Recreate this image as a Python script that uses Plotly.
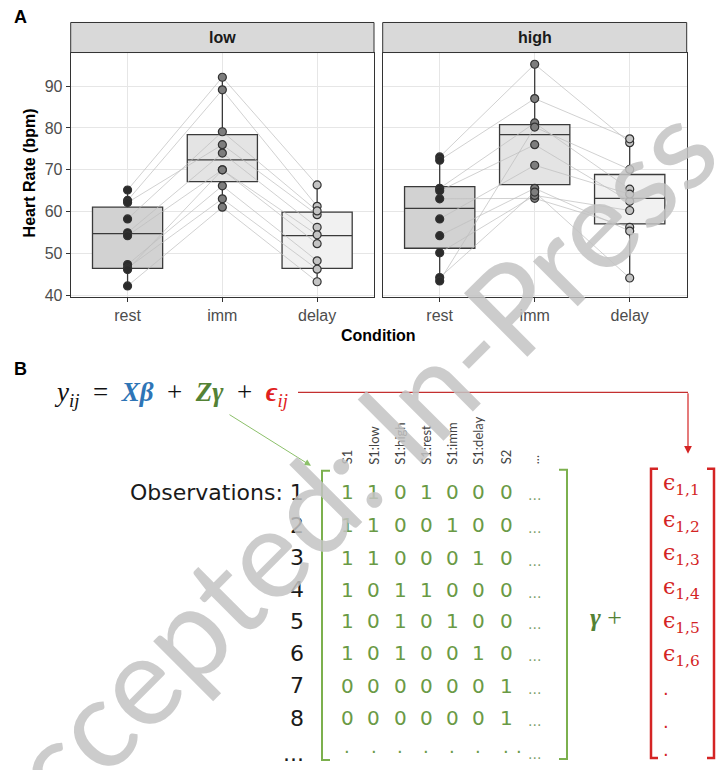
import plotly.graph_objects as go

W, H = 728, 770
def X(px): return px / W
def Y(py): return 1 - py / H

# ---------------- Panel A data ----------------
conditions = ["rest", "imm", "delay"]
facets = ["low", "high"]

rest_low  = [65.2, 62.7, 62.2, 58.3, 55.0, 54.3, 47.4, 46.6, 46.2, 42.3]
imm_low   = [92.1, 89.1, 76.0, 79.1, 74.0, 70.0, 66.2, 63.1, 70.0, 61.1]
delay_low = [66.4, 61.3, 59.3, 60.2, 56.3, 52.4, 48.3, 46.3, 54.5, 43.3]

rest_high  = [73.1, 72.3, 65.6, 65.0, 63.1, 58.3, 54.3, 50.2, 44.3, 43.5]
imm_high   = [95.2, 87.0, 81.2, 76.0, 63.2, 71.1, 65.6, 63.9, 64.7, 80.2]
delay_high = [76.5, 77.4, 65.4, 62.5, 56.3, 64.2, 55.4, 60.3, 44.2, 70.1]

# box statistics (rest, imm, delay)
q1_low  = [46.5, 67.2, 46.5]
med_low = [54.8, 72.4, 54.3]
q3_low  = [61.1, 78.4, 59.9]
lo_low  = [42.3, 61.1, 43.3]
hi_low  = [65.2, 92.1, 66.4]

q1_high  = [51.3, 66.5, 57.1]
med_high = [60.8, 78.4, 63.2]
q3_high  = [66.0, 80.8, 68.9]
lo_high  = [43.5, 63.2, 44.2]
hi_high  = [73.1, 95.2, 77.4]

y_ticks = [40, 50, 60, 70, 80, 90]

# ---------------- Panel B data ----------------
z_columns = ["S1", "S1:low", "S1:high", "S1:rest", "S1:imm", "S1:delay", "S2", "..."]
row_labels = ["Observations: 1", "2", "3", "4", "5", "6", "7", "8", "..."]
z_matrix = [
    [1, 1, 0, 1, 0, 0, 0],
    [1, 1, 0, 0, 1, 0, 0],
    [1, 1, 0, 0, 0, 1, 0],
    [1, 0, 1, 1, 0, 0, 0],
    [1, 0, 1, 0, 1, 0, 0],
    [1, 0, 1, 0, 0, 1, 0],
    [0, 0, 0, 0, 0, 0, 1],
    [0, 0, 0, 0, 0, 0, 1],
]
eps_labels = ["1,1", "1,2", "1,3", "1,4", "1,5", "1,6"]

box_fill = ["#d2d2d2", "#e4e4e4", "#f1f1f1"]
pt_fill = ["#2b2b2b", "#7d7d7d", "#c4c4c4"]
GREEN = "#6a9a45"
RED = "#d42424"

fig = go.Figure()

facet_data = [
    ("x", "y", [rest_low, imm_low, delay_low], q1_low, med_low, q3_low, lo_low, hi_low),
    ("x2", "y2", [rest_high, imm_high, delay_high], q1_high, med_high, q3_high, lo_high, hi_high),
]

for xa, ya, vals, q1, med, q3, lo, hi in facet_data:
    for i in range(3):
        fig.add_trace(go.Box(
            x=[i + 1], q1=[q1[i]], median=[med[i]], q3=[q3[i]],
            lowerfence=[lo[i]], upperfence=[hi[i]],
            width=0.74, fillcolor=box_fill[i],
            line=dict(color="#3a3a3a", width=1.3), whiskerwidth=0,
            boxpoints=False, showlegend=False, hoverinfo="skip",
            xaxis=xa, yaxis=ya))
    n = len(vals[0])
    for s in range(n):
        fig.add_trace(go.Scatter(
            x=[1, 2, 3], y=[vals[0][s], vals[1][s], vals[2][s]],
            mode="lines", line=dict(color="rgba(190,190,190,0.7)", width=1),
            showlegend=False, hoverinfo="skip", xaxis=xa, yaxis=ya))
    for i in range(3):
        fig.add_trace(go.Scatter(
            x=[i + 1] * n, y=vals[i], mode="markers",
            marker=dict(size=8, color=pt_fill[i], line=dict(color="#333333", width=1.2)),
            showlegend=False, hoverinfo="skip", xaxis=xa, yaxis=ya))

ax_common = dict(range=[0.4, 3.6], tickvals=[1, 2, 3], ticktext=conditions,
                 showgrid=True, gridcolor="#e6e6e6", gridwidth=1, zeroline=False,
                 showline=True, mirror=True, linecolor="#333333", linewidth=1,
                 ticks="outside", ticklen=4, tickcolor="#333333",
                 tickfont=dict(family="Liberation Sans", size=16, color="#4d4d4d"))
ay_common = dict(range=[39.6, 98.0], tickvals=y_ticks,
                 showgrid=True, gridcolor="#e6e6e6", gridwidth=1, zeroline=False,
                 showline=True, mirror=True, linecolor="#333333", linewidth=1,
                 tickfont=dict(family="Liberation Sans", size=16, color="#4d4d4d"))

fig.update_layout(
    width=W, height=H, margin=dict(l=0, r=0, t=0, b=0),
    paper_bgcolor="white", plot_bgcolor="white", boxmode="overlay",
    xaxis=dict(domain=[X(70.7), X(374)], anchor="y", **ax_common),
    xaxis2=dict(domain=[X(382.7), X(686.7)], anchor="y2", **ax_common),
    yaxis=dict(domain=[Y(300), Y(53)], anchor="x", ticks="outside", ticklen=4,
               tickcolor="#333333", **ay_common),
    yaxis2=dict(domain=[Y(300), Y(53)], anchor="x2", showticklabels=False,
                ticks="", **ay_common),
)

shapes = []
annotations = []

# facet strips
for (x0, x1), lab in zip([(70.7, 374), (382.7, 686.7)], facets):
    shapes.append(dict(type="rect", xref="paper", yref="paper",
                       x0=X(x0), x1=X(x1), y0=Y(53), y1=Y(22.7),
                       fillcolor="#d9d9d9", line=dict(color="#333333", width=1)))
    annotations.append(dict(x=X((x0 + x1) / 2), y=Y(38), text="<b>%s</b>" % lab,
                            showarrow=False,
                            font=dict(family="Liberation Sans", size=16, color="#1a1a1a")))

annotations += [
    dict(x=X(12), y=Y(17), text="<b>A</b>", xanchor="left", showarrow=False,
         font=dict(family="Liberation Sans", size=18, color="black")),
    dict(x=X(12), y=Y(372), text="<b>B</b>", xanchor="left", showarrow=False,
         font=dict(family="Liberation Sans", size=18, color="black")),
    dict(x=X(378), y=Y(339), text="<b>Condition</b>", showarrow=False,
         font=dict(family="Liberation Sans", size=16, color="black")),
    dict(x=X(29), y=Y(175), text="<b>Heart Rate (bpm)</b>", textangle=-90, showarrow=False,
         font=dict(family="Liberation Sans", size=16, color="black")),
]

# equation
SP = "\u2002"
eq = ("<i>y</i><sub><i>ij</i></sub>" + SP + "=" + SP +
      "<span style='color:#2e75b6'><b><i>Xβ</i></b></span>" + SP + "+" + SP +
      "<span style='color:#548235'><b><i>Zγ</i></b></span>" + SP + "+" + SP +
      "<span style='color:#e02020'><b><i>ϵ</i></b><sub><i>ij</i></sub></span>")
annotations.append(dict(x=X(52), y=Y(398), text=eq, xanchor="left",
                        showarrow=False,
                        font=dict(family="Liberation Serif", size=27, color="#111111")))

# red connector line + arrow
shapes.append(dict(type="line", xref="paper", yref="paper", x0=X(298), x1=X(688),
                   y0=Y(396), y1=Y(396), line=dict(color="#c43030", width=1.2)))
annotations.append(dict(x=X(688), y=Y(458), ax=0, ay=-62,
                        axref="pixel", ayref="pixel", text="", showarrow=True,
                        arrowhead=2, arrowsize=1.3, arrowwidth=1.2, arrowcolor=RED))
# green arrow
annotations.append(dict(x=X(311), y=Y(470), ax=-83, ay=-52,
                        text="", showarrow=True, arrowhead=2, arrowsize=1.3,
                        arrowwidth=1, arrowcolor="#8cc06a"))

# column headers
col_x = [347, 374, 400, 426, 452, 478, 506, 534]
for cx, lab in zip(col_x, z_columns):
    annotations.append(dict(x=X(cx), y=Y(471), text=lab, textangle=-90,
                            yanchor="bottom", showarrow=False,
                            font=dict(family="Lato", size=13, color="#444444")))

# row labels
row_y = [497, 530, 563, 595, 627, 659, 692, 725, 760]
for ry, lab in zip(row_y, row_labels):
    annotations.append(dict(x=X(306), y=Y(ry), text=lab, xanchor="right",
                            showarrow=False,
                            font=dict(family="DejaVu Sans", size=22, color="#1a1a1a")))

# matrix entries
for r, row in enumerate(z_matrix):
    for c, v in enumerate(row):
        annotations.append(dict(x=X(col_x[c]), y=Y(row_y[r]), text=str(v),
                                showarrow=False,
                                font=dict(family="DejaVu Sans", size=20, color=GREEN)))
    annotations.append(dict(x=X(col_x[7]), y=Y(row_y[r] + 3), text="...", showarrow=False,
                            font=dict(family="DejaVu Sans", size=14, color="#7f9f6a")))
# last row of dots
for cx in col_x[:7] + [col_x[6] + 13]:
    annotations.append(dict(x=X(cx), y=Y(row_y[8] - 2), text="·", showarrow=False,
                            font=dict(family="DejaVu Sans", size=18, color=GREEN)))
annotations.append(dict(x=X(col_x[7]), y=Y(row_y[8] + 1), text="...", showarrow=False,
                        font=dict(family="DejaVu Sans", size=14, color="#7f9f6a")))

# brackets
def bracket(xv, xt, y0, y1, color, w):
    shapes.append(dict(type="path", xref="paper", yref="paper",
                       path="M %f %f L %f %f L %f %f L %f %f" % (
                           X(xt), Y(y0), X(xv), Y(y0), X(xv), Y(y1), X(xt), Y(y1)),
                       line=dict(color=color, width=w)))

bracket(322, 330, 475, 767, "#7cb04e", 2)
bracket(567, 559, 474, 766, "#7cb04e", 2)
bracket(651, 658, 473, 765, RED, 2.5)
bracket(714, 707, 473, 765, RED, 2.5)

# gamma +
annotations.append(dict(x=X(606), y=Y(623), text="<b><i>γ</i></b> +", showarrow=False,
                        font=dict(family="Liberation Serif", size=26, color="#548235")))

# epsilon vector
eps_y = [489, 526, 560, 594, 628, 662]
for ey, lab in zip(eps_y, eps_labels):
    annotations.append(dict(x=X(681), y=Y(ey), text="ϵ<sub>%s</sub>" % lab, showarrow=False,
                            font=dict(family="DejaVu Serif", size=22, color=RED)))
for ey in [700, 733, 761]:
    annotations.append(dict(x=X(666), y=Y(ey), text="·", showarrow=False,
                            font=dict(family="DejaVu Sans", size=18, color=RED)))

# watermark
annotations.append(dict(x=X(330), y=Y(490), text="Accepted: In-Press", textangle=-45,
                        showarrow=False,
                        font=dict(family="Lato", size=125, color="rgba(195,195,195,0.85)")))

for a in annotations:
    a.setdefault("xref", "paper")
    a.setdefault("yref", "paper")
    a.setdefault("xanchor", "center")
    a.setdefault("yanchor", "middle")

fig.update_layout(shapes=shapes, annotations=annotations)
fig.write_html("out.html")
